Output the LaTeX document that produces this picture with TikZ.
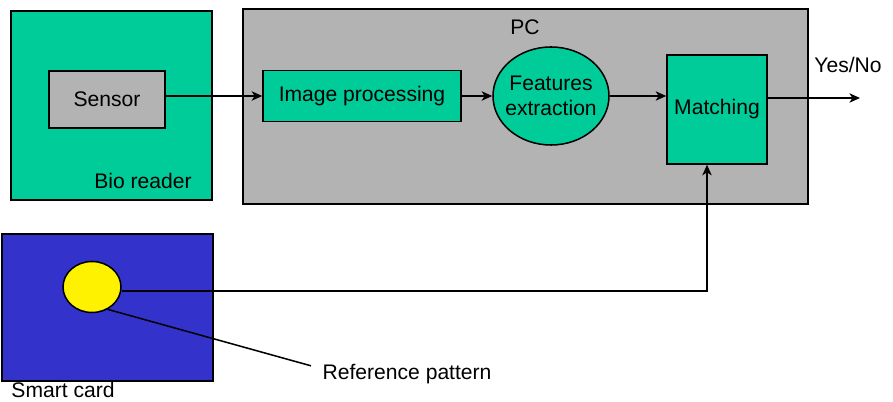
\documentclass[tikz,border=0pt]{standalone}
\usepackage{fontspec}
\setmainfont{Liberation Sans}
\usetikzlibrary{arrows.meta}
\usetikzlibrary{shapes}
\usetikzlibrary{positioning}

\definecolor{readerteal}{HTML}{00CC99}
\definecolor{pcgray}{HTML}{B3B3B3}
\definecolor{cardblue}{HTML}{3333CC}

\begin{document}
\begin{tikzpicture}[>={Stealth[length=9pt, width=8pt, inset=2.5pt]}, x=0.03cm, y=-0.03cm, line width=1.3pt,
    font=\fontsize{18}{21}\selectfont,
    block/.style={draw, rectangle, inner sep=0pt},
    blob/.style={draw, ellipse, inner sep=0pt, align=center}]
    \useasboundingbox (0,0) rectangle (893,402);

% bio reader
\node[block, fill=readerteal, minimum width=6.03cm, minimum height=5.67cm] (reader) at (111.5,105.5) {};
\node[block, fill=pcgray, minimum width=3.48cm, minimum height=1.71cm] (sensor) at (107,99.5) {Sensor};
\node (readerlabel) at (143,181) {Bio reader};

% PC
\node[block, fill=pcgray, minimum width=16.95cm, minimum height=5.85cm] (pc) at (525.5,106.5) {};
\node (pclabel) at (525,27) {PC};
\node[block, fill=readerteal, minimum width=5.94cm, minimum height=1.53cm] (imgproc) at (362,96) {Image processing};
\node[blob, fill=readerteal, inner xsep=-9pt, minimum width=3.48cm, minimum height=2.94cm] (features) at (551,96) {Features\\extraction};
\node[block, fill=readerteal, minimum width=3cm, minimum height=3.27cm] (matching) at (717,109.5) {Matching};
\node (yesno) at (848,65) {Yes/No};
\coordinate (yesnoend) at (860,98);

% smart card
\node[block, fill=cardblue, minimum width=6.33cm, minimum height=4.41cm] (card) at (107.5,307.5) {};
\node[blob, fill=yellow, minimum width=1.74cm, minimum height=1.53cm] (chip) at (92,287) {};
\node (cardlabel) at (63,390) {Smart card};
\node[anchor=west] (reflabel) at (318,374) {Reference pattern};
\coordinate (bend) at (707,291);

\draw[->] (sensor.east |- imgproc) -- (imgproc.west);
\draw[->] (imgproc.east) -- (features.west);
\draw[->] (features.east) -- (features.east -| matching.west);
\draw[->] (matching.east |- yesnoend) -- (yesnoend);
\draw[->] (chip.east |- bend) -- (bend) -- (bend |- matching.south);
\draw (chip.-55) -- ([xshift=-6pt, yshift=7pt]reflabel.west);
\end{tikzpicture}
\end{document}
